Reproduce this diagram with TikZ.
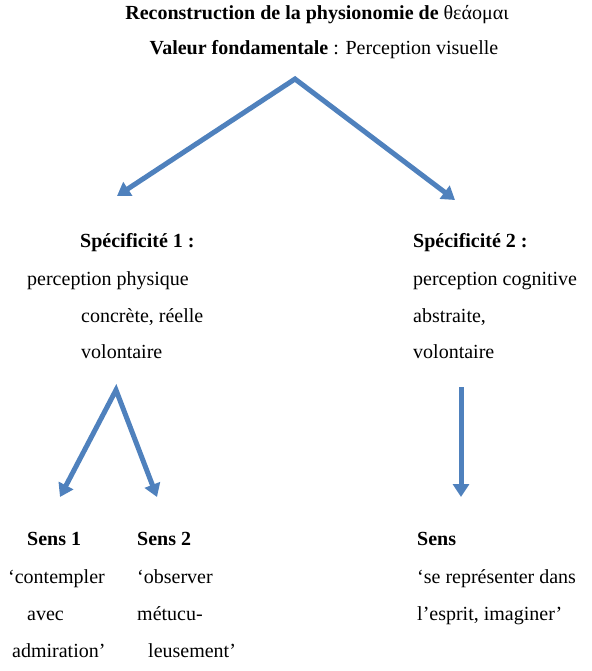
\documentclass[tikz,border=0pt]{standalone}
\usepackage{fontspec}
\setmainfont{Liberation Serif}
\usetikzlibrary{arrows.meta}
\definecolor{arrowblue}{RGB}{79,129,189}
\tikzset{
  txt/.style={anchor=base west, inner sep=0pt, font=\fontsize{20}{24}\selectfont},
  ctxt/.style={txt, anchor=base},
  flow/.style={draw=arrowblue, line width=5pt, line join=miter,
    arrows={Triangle[length=13pt,width=16pt]-Triangle[length=13pt,width=16pt]}},
  flowone/.style={draw=arrowblue, line width=5pt, -{Triangle[length=13pt,width=16pt]}}
}

\begin{document}
\begin{tikzpicture}[x=1pt, y=-1pt]
  \useasboundingbox (0,0) rectangle (591,671);
  % top
  \node[ctxt] (title) at (317,20) {\textbf{Reconstruction de la physionomie de} θεάομαι};
  \node[ctxt] (valeur) at (324,55) {\textbf{Valeur fondamentale} : Perception visuelle};
  \coordinate (top) at (295,79);
  \coordinate (topL) at (117,196);
  \coordinate (topR) at (455,200);
  \draw[flow] (topL) -- (top) -- (topR);
  % specificite 1
  \node[txt] (spec1) at (80,247) {\textbf{Spécificité 1 :}};
  \node[txt] (spec1a) at (27,285) {perception physique};
  \node[txt] (spec1b) at (81,322) {concrète, réelle};
  \node[txt] (spec1c) at (81,358) {volontaire};
  % specificite 2
  \node[txt] (spec2) at (413,247) {\textbf{Spécificité 2 :}};
  \node[txt] (spec2a) at (413,285) {perception cognitive};
  \node[txt] (spec2b) at (413,322) {abstraite,};
  \node[txt] (spec2c) at (413,358) {volontaire};
  % arrows below
  \coordinate (mid) at (116,390);
  \coordinate (midL) at (60,497);
  \coordinate (midR) at (157,497);
  \draw[flow] (midL) -- (mid) -- (midR);
  \coordinate (right) at (461,387);
  \coordinate (rightT) at (461,497);
  \draw[flowone] (right) -- (rightT);
  % sens
  \node[txt] (sens1) at (27,545) {\textbf{Sens 1}};
  \node[txt] (sens1a) at (8,583) {‘contempler};
  \node[txt] (sens1b) at (27,620) {avec};
  \node[txt] (sens1c) at (12,657) {admiration’};
  \node[txt] (sens2) at (137,545) {\textbf{Sens 2}};
  \node[txt] (sens2a) at (137,583) {‘observer};
  \node[txt] (sens2b) at (137,620) {métucu-};
  \node[txt] (sens2c) at (148,657) {leusement’};
  \node[txt] (sens) at (417,545) {\textbf{Sens}};
  \node[txt] (sensa) at (417,583) {‘se représenter dans};
  \node[txt] (sensb) at (417,620) {l’esprit, imaginer’};
\end{tikzpicture}
\end{document}
